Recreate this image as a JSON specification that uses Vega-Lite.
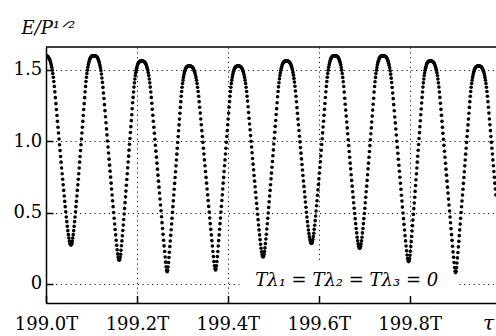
{
"$schema": "https://vega.github.io/schema/vega-lite/v6.json",
"width": 450,
"height": 256,
"autosize": {"type": "none"},
"padding": {"left": 46, "top": 47, "right": 0, "bottom": 33},
"background": "white",
"config": {"view": {"stroke": null}},
"layer": [
{
"data": {"values": [{}]},
"mark": {"type": "rect", "fill": "white"},
"encoding": {
"x": {"datum": 199.426, "type": "quantitative"},
"x2": {"datum": 199.906},
"y": {"datum": -0.075, "type": "quantitative"},
"y2": {"datum": 0.168}
}
},
{
"data": {"values": [
{"t":199.0001,"v":1.600},{"t":199.0012,"v":1.599},{"t":199.0024,"v":1.598},{"t":199.0035,"v":1.596},{"t":199.0047,"v":1.592},{"t":199.0058,"v":1.587},{"t":199.0069,"v":1.581},{"t":199.0081,"v":1.573},{"t":199.0092,"v":1.563},{"t":199.0104,"v":1.551},{"t":199.0115,"v":1.536},{"t":199.0126,"v":1.519},{"t":199.0138,"v":1.499},{"t":199.0149,"v":1.475},{"t":199.0161,"v":1.449},{"t":199.0172,"v":1.419},{"t":199.0184,"v":1.385},{"t":199.0195,"v":1.347},{"t":199.0206,"v":1.306},{"t":199.0218,"v":1.264},{"t":199.0229,"v":1.223},{"t":199.0241,"v":1.181},{"t":199.0252,"v":1.140},{"t":199.0264,"v":1.099},{"t":199.0275,"v":1.058},{"t":199.0286,"v":1.016},{"t":199.0298,"v":0.976},{"t":199.0309,"v":0.935},{"t":199.0321,"v":0.894},{"t":199.0332,"v":0.854},{"t":199.0343,"v":0.813},{"t":199.0355,"v":0.773},{"t":199.0366,"v":0.734},{"t":199.0378,"v":0.695},{"t":199.0389,"v":0.656},{"t":199.0401,"v":0.617},{"t":199.0412,"v":0.579},{"t":199.0423,"v":0.542},{"t":199.0435,"v":0.506},{"t":199.0446,"v":0.470},{"t":199.0458,"v":0.437},{"t":199.0469,"v":0.404},{"t":199.0480,"v":0.374},{"t":199.0492,"v":0.346},{"t":199.0503,"v":0.322},{"t":199.0515,"v":0.301},{"t":199.0526,"v":0.286},{"t":199.0538,"v":0.276},
{"t":199.0549,"v":0.273},{"t":199.0559,"v":0.276},{"t":199.0569,"v":0.286},{"t":199.0579,"v":0.301},{"t":199.0589,"v":0.322},{"t":199.0599,"v":0.346},{"t":199.0609,"v":0.374},{"t":199.0619,"v":0.404},{"t":199.0629,"v":0.437},{"t":199.0639,"v":0.470},{"t":199.0649,"v":0.506},{"t":199.0659,"v":0.542},{"t":199.0669,"v":0.579},{"t":199.0680,"v":0.617},{"t":199.0690,"v":0.656},{"t":199.0700,"v":0.695},{"t":199.0710,"v":0.734},{"t":199.0720,"v":0.773},{"t":199.0730,"v":0.813},{"t":199.0740,"v":0.854},{"t":199.0750,"v":0.894},{"t":199.0760,"v":0.935},{"t":199.0770,"v":0.976},{"t":199.0780,"v":1.016},{"t":199.0790,"v":1.058},{"t":199.0800,"v":1.099},{"t":199.0810,"v":1.140},{"t":199.0820,"v":1.181},{"t":199.0830,"v":1.223},{"t":199.0840,"v":1.264},{"t":199.0850,"v":1.306},{"t":199.0860,"v":1.347},{"t":199.0870,"v":1.385},{"t":199.0880,"v":1.419},{"t":199.0890,"v":1.449},{"t":199.0900,"v":1.475},{"t":199.0910,"v":1.499},{"t":199.0920,"v":1.519},{"t":199.0931,"v":1.536},{"t":199.0941,"v":1.551},{"t":199.0951,"v":1.563},{"t":199.0961,"v":1.573},{"t":199.0971,"v":1.581},{"t":199.0981,"v":1.587},{"t":199.0991,"v":1.592},{"t":199.1001,"v":1.596},{"t":199.1011,"v":1.598},{"t":199.1021,"v":1.599},{"t":199.1031,"v":1.600},{"t":199.1041,"v":1.600},
{"t":199.1051,"v":1.600},{"t":199.1062,"v":1.600},{"t":199.1073,"v":1.600},{"t":199.1085,"v":1.599},{"t":199.1096,"v":1.598},{"t":199.1107,"v":1.595},{"t":199.1118,"v":1.592},{"t":199.1129,"v":1.587},{"t":199.1141,"v":1.581},{"t":199.1152,"v":1.572},{"t":199.1163,"v":1.562},{"t":199.1174,"v":1.549},{"t":199.1185,"v":1.534},{"t":199.1197,"v":1.516},{"t":199.1208,"v":1.496},{"t":199.1219,"v":1.472},{"t":199.1230,"v":1.444},{"t":199.1241,"v":1.413},{"t":199.1253,"v":1.378},{"t":199.1264,"v":1.339},{"t":199.1275,"v":1.300},{"t":199.1286,"v":1.257},{"t":199.1297,"v":1.215},{"t":199.1309,"v":1.172},{"t":199.1320,"v":1.130},{"t":199.1331,"v":1.087},{"t":199.1342,"v":1.045},{"t":199.1353,"v":1.002},{"t":199.1365,"v":0.960},{"t":199.1376,"v":0.918},{"t":199.1387,"v":0.875},{"t":199.1398,"v":0.833},{"t":199.1409,"v":0.791},{"t":199.1421,"v":0.749},{"t":199.1432,"v":0.707},{"t":199.1443,"v":0.666},{"t":199.1454,"v":0.624},{"t":199.1465,"v":0.583},{"t":199.1477,"v":0.542},{"t":199.1488,"v":0.501},{"t":199.1499,"v":0.461},{"t":199.1510,"v":0.421},{"t":199.1521,"v":0.382},{"t":199.1533,"v":0.344},{"t":199.1544,"v":0.307},{"t":199.1555,"v":0.272},{"t":199.1566,"v":0.240},{"t":199.1577,"v":0.211},{"t":199.1589,"v":0.188},{"t":199.1600,"v":0.172},
{"t":199.1611,"v":0.167},{"t":199.1621,"v":0.172},{"t":199.1631,"v":0.187},{"t":199.1641,"v":0.209},{"t":199.1650,"v":0.237},{"t":199.1660,"v":0.268},{"t":199.1670,"v":0.302},{"t":199.1680,"v":0.338},{"t":199.1690,"v":0.375},{"t":199.1700,"v":0.413},{"t":199.1709,"v":0.452},{"t":199.1719,"v":0.491},{"t":199.1729,"v":0.530},{"t":199.1739,"v":0.570},{"t":199.1749,"v":0.611},{"t":199.1759,"v":0.651},{"t":199.1768,"v":0.692},{"t":199.1778,"v":0.732},{"t":199.1788,"v":0.773},{"t":199.1798,"v":0.814},{"t":199.1808,"v":0.855},{"t":199.1818,"v":0.896},{"t":199.1827,"v":0.938},{"t":199.1837,"v":0.979},{"t":199.1847,"v":1.020},{"t":199.1857,"v":1.062},{"t":199.1867,"v":1.103},{"t":199.1877,"v":1.145},{"t":199.1887,"v":1.186},{"t":199.1896,"v":1.228},{"t":199.1906,"v":1.270},{"t":199.1916,"v":1.308},{"t":199.1926,"v":1.346},{"t":199.1936,"v":1.380},{"t":199.1946,"v":1.410},{"t":199.1955,"v":1.437},{"t":199.1965,"v":1.461},{"t":199.1975,"v":1.481},{"t":199.1985,"v":1.498},{"t":199.1995,"v":1.513},{"t":199.2005,"v":1.525},{"t":199.2014,"v":1.536},{"t":199.2024,"v":1.543},{"t":199.2034,"v":1.550},{"t":199.2044,"v":1.555},{"t":199.2054,"v":1.558},{"t":199.2064,"v":1.560},{"t":199.2073,"v":1.562},{"t":199.2083,"v":1.562},{"t":199.2093,"v":1.563},
{"t":199.2103,"v":1.563},{"t":199.2114,"v":1.563},{"t":199.2126,"v":1.562},{"t":199.2137,"v":1.562},{"t":199.2148,"v":1.560},{"t":199.2159,"v":1.558},{"t":199.2171,"v":1.555},{"t":199.2182,"v":1.550},{"t":199.2193,"v":1.543},{"t":199.2204,"v":1.536},{"t":199.2216,"v":1.525},{"t":199.2227,"v":1.513},{"t":199.2238,"v":1.498},{"t":199.2249,"v":1.481},{"t":199.2261,"v":1.461},{"t":199.2272,"v":1.437},{"t":199.2283,"v":1.410},{"t":199.2294,"v":1.380},{"t":199.2306,"v":1.346},{"t":199.2317,"v":1.308},{"t":199.2328,"v":1.267},{"t":199.2339,"v":1.225},{"t":199.2351,"v":1.183},{"t":199.2362,"v":1.141},{"t":199.2373,"v":1.099},{"t":199.2385,"v":1.057},{"t":199.2396,"v":1.015},{"t":199.2407,"v":0.973},{"t":199.2418,"v":0.931},{"t":199.2430,"v":0.889},{"t":199.2441,"v":0.847},{"t":199.2452,"v":0.805},{"t":199.2463,"v":0.763},{"t":199.2475,"v":0.721},{"t":199.2486,"v":0.679},{"t":199.2497,"v":0.638},{"t":199.2508,"v":0.596},{"t":199.2520,"v":0.554},{"t":199.2531,"v":0.513},{"t":199.2542,"v":0.471},{"t":199.2553,"v":0.430},{"t":199.2565,"v":0.389},{"t":199.2576,"v":0.348},{"t":199.2587,"v":0.307},{"t":199.2598,"v":0.267},{"t":199.2610,"v":0.228},{"t":199.2621,"v":0.189},{"t":199.2632,"v":0.153},{"t":199.2643,"v":0.120},{"t":199.2655,"v":0.096},
{"t":199.2666,"v":0.086},{"t":199.2676,"v":0.095},{"t":199.2685,"v":0.119},{"t":199.2695,"v":0.151},{"t":199.2705,"v":0.186},{"t":199.2714,"v":0.223},{"t":199.2724,"v":0.262},{"t":199.2734,"v":0.301},{"t":199.2743,"v":0.341},{"t":199.2753,"v":0.380},{"t":199.2763,"v":0.421},{"t":199.2772,"v":0.461},{"t":199.2782,"v":0.502},{"t":199.2792,"v":0.542},{"t":199.2801,"v":0.583},{"t":199.2811,"v":0.624},{"t":199.2821,"v":0.664},{"t":199.2830,"v":0.705},{"t":199.2840,"v":0.746},{"t":199.2850,"v":0.787},{"t":199.2859,"v":0.828},{"t":199.2869,"v":0.869},{"t":199.2879,"v":0.910},{"t":199.2888,"v":0.951},{"t":199.2898,"v":0.992},{"t":199.2908,"v":1.033},{"t":199.2917,"v":1.074},{"t":199.2927,"v":1.115},{"t":199.2936,"v":1.156},{"t":199.2946,"v":1.197},{"t":199.2956,"v":1.238},{"t":199.2965,"v":1.278},{"t":199.2975,"v":1.316},{"t":199.2985,"v":1.349},{"t":199.2994,"v":1.379},{"t":199.3004,"v":1.405},{"t":199.3014,"v":1.428},{"t":199.3023,"v":1.448},{"t":199.3033,"v":1.465},{"t":199.3043,"v":1.479},{"t":199.3052,"v":1.491},{"t":199.3062,"v":1.501},{"t":199.3072,"v":1.509},{"t":199.3081,"v":1.515},{"t":199.3091,"v":1.520},{"t":199.3101,"v":1.523},{"t":199.3110,"v":1.525},{"t":199.3120,"v":1.527},{"t":199.3130,"v":1.527},{"t":199.3139,"v":1.528},
{"t":199.3149,"v":1.528},{"t":199.3161,"v":1.528},{"t":199.3172,"v":1.527},{"t":199.3184,"v":1.527},{"t":199.3195,"v":1.525},{"t":199.3207,"v":1.523},{"t":199.3219,"v":1.520},{"t":199.3230,"v":1.515},{"t":199.3242,"v":1.509},{"t":199.3254,"v":1.501},{"t":199.3265,"v":1.491},{"t":199.3277,"v":1.479},{"t":199.3288,"v":1.465},{"t":199.3300,"v":1.448},{"t":199.3312,"v":1.428},{"t":199.3323,"v":1.405},{"t":199.3335,"v":1.379},{"t":199.3347,"v":1.349},{"t":199.3358,"v":1.316},{"t":199.3370,"v":1.278},{"t":199.3381,"v":1.239},{"t":199.3393,"v":1.198},{"t":199.3405,"v":1.157},{"t":199.3416,"v":1.116},{"t":199.3428,"v":1.075},{"t":199.3440,"v":1.034},{"t":199.3451,"v":0.993},{"t":199.3463,"v":0.952},{"t":199.3474,"v":0.911},{"t":199.3486,"v":0.870},{"t":199.3498,"v":0.829},{"t":199.3509,"v":0.788},{"t":199.3521,"v":0.747},{"t":199.3532,"v":0.707},{"t":199.3544,"v":0.666},{"t":199.3556,"v":0.625},{"t":199.3567,"v":0.585},{"t":199.3579,"v":0.544},{"t":199.3591,"v":0.504},{"t":199.3602,"v":0.463},{"t":199.3614,"v":0.423},{"t":199.3625,"v":0.383},{"t":199.3637,"v":0.344},{"t":199.3649,"v":0.304},{"t":199.3660,"v":0.266},{"t":199.3672,"v":0.228},{"t":199.3684,"v":0.192},{"t":199.3695,"v":0.158},{"t":199.3707,"v":0.128},{"t":199.3718,"v":0.106},
{"t":199.3730,"v":0.098},{"t":199.3740,"v":0.106},{"t":199.3750,"v":0.128},{"t":199.3760,"v":0.158},{"t":199.3770,"v":0.192},{"t":199.3780,"v":0.228},{"t":199.3790,"v":0.266},{"t":199.3799,"v":0.304},{"t":199.3809,"v":0.344},{"t":199.3819,"v":0.383},{"t":199.3829,"v":0.423},{"t":199.3839,"v":0.463},{"t":199.3849,"v":0.504},{"t":199.3859,"v":0.544},{"t":199.3869,"v":0.585},{"t":199.3879,"v":0.625},{"t":199.3889,"v":0.666},{"t":199.3899,"v":0.707},{"t":199.3909,"v":0.747},{"t":199.3918,"v":0.788},{"t":199.3928,"v":0.829},{"t":199.3938,"v":0.870},{"t":199.3948,"v":0.911},{"t":199.3958,"v":0.952},{"t":199.3968,"v":0.993},{"t":199.3978,"v":1.034},{"t":199.3988,"v":1.075},{"t":199.3998,"v":1.116},{"t":199.4008,"v":1.157},{"t":199.4018,"v":1.198},{"t":199.4028,"v":1.239},{"t":199.4038,"v":1.278},{"t":199.4047,"v":1.316},{"t":199.4057,"v":1.349},{"t":199.4067,"v":1.379},{"t":199.4077,"v":1.405},{"t":199.4087,"v":1.428},{"t":199.4097,"v":1.448},{"t":199.4107,"v":1.465},{"t":199.4117,"v":1.479},{"t":199.4127,"v":1.491},{"t":199.4137,"v":1.501},{"t":199.4147,"v":1.509},{"t":199.4157,"v":1.515},{"t":199.4166,"v":1.520},{"t":199.4176,"v":1.523},{"t":199.4186,"v":1.525},{"t":199.4196,"v":1.527},{"t":199.4206,"v":1.527},{"t":199.4216,"v":1.528},
{"t":199.4226,"v":1.528},{"t":199.4237,"v":1.528},{"t":199.4248,"v":1.527},{"t":199.4259,"v":1.527},{"t":199.4270,"v":1.525},{"t":199.4281,"v":1.523},{"t":199.4292,"v":1.520},{"t":199.4303,"v":1.515},{"t":199.4314,"v":1.509},{"t":199.4325,"v":1.501},{"t":199.4336,"v":1.491},{"t":199.4347,"v":1.479},{"t":199.4358,"v":1.465},{"t":199.4369,"v":1.448},{"t":199.4380,"v":1.428},{"t":199.4391,"v":1.405},{"t":199.4402,"v":1.379},{"t":199.4413,"v":1.349},{"t":199.4424,"v":1.316},{"t":199.4435,"v":1.282},{"t":199.4446,"v":1.242},{"t":199.4457,"v":1.202},{"t":199.4468,"v":1.161},{"t":199.4479,"v":1.121},{"t":199.4490,"v":1.081},{"t":199.4501,"v":1.040},{"t":199.4512,"v":1.000},{"t":199.4523,"v":0.960},{"t":199.4534,"v":0.920},{"t":199.4545,"v":0.880},{"t":199.4556,"v":0.840},{"t":199.4567,"v":0.800},{"t":199.4578,"v":0.761},{"t":199.4589,"v":0.721},{"t":199.4600,"v":0.682},{"t":199.4611,"v":0.643},{"t":199.4622,"v":0.604},{"t":199.4633,"v":0.565},{"t":199.4644,"v":0.527},{"t":199.4655,"v":0.489},{"t":199.4666,"v":0.451},{"t":199.4677,"v":0.414},{"t":199.4688,"v":0.379},{"t":199.4699,"v":0.344},{"t":199.4710,"v":0.311},{"t":199.4721,"v":0.279},{"t":199.4732,"v":0.251},{"t":199.4743,"v":0.226},{"t":199.4754,"v":0.207},{"t":199.4765,"v":0.194},
{"t":199.4776,"v":0.190},{"t":199.4786,"v":0.195},{"t":199.4797,"v":0.208},{"t":199.4807,"v":0.228},{"t":199.4817,"v":0.253},{"t":199.4827,"v":0.283},{"t":199.4838,"v":0.315},{"t":199.4848,"v":0.349},{"t":199.4858,"v":0.385},{"t":199.4869,"v":0.422},{"t":199.4879,"v":0.460},{"t":199.4889,"v":0.498},{"t":199.4899,"v":0.537},{"t":199.4910,"v":0.577},{"t":199.4920,"v":0.616},{"t":199.4930,"v":0.656},{"t":199.4940,"v":0.696},{"t":199.4951,"v":0.737},{"t":199.4961,"v":0.777},{"t":199.4971,"v":0.818},{"t":199.4982,"v":0.859},{"t":199.4992,"v":0.899},{"t":199.5002,"v":0.940},{"t":199.5012,"v":0.981},{"t":199.5023,"v":1.022},{"t":199.5033,"v":1.064},{"t":199.5043,"v":1.105},{"t":199.5054,"v":1.146},{"t":199.5064,"v":1.188},{"t":199.5074,"v":1.229},{"t":199.5084,"v":1.270},{"t":199.5095,"v":1.312},{"t":199.5105,"v":1.349},{"t":199.5115,"v":1.382},{"t":199.5126,"v":1.411},{"t":199.5136,"v":1.438},{"t":199.5146,"v":1.461},{"t":199.5156,"v":1.481},{"t":199.5167,"v":1.498},{"t":199.5177,"v":1.513},{"t":199.5187,"v":1.525},{"t":199.5197,"v":1.536},{"t":199.5208,"v":1.543},{"t":199.5218,"v":1.550},{"t":199.5228,"v":1.555},{"t":199.5239,"v":1.558},{"t":199.5249,"v":1.560},{"t":199.5259,"v":1.562},{"t":199.5269,"v":1.562},{"t":199.5280,"v":1.563},
{"t":199.5290,"v":1.563},{"t":199.5301,"v":1.563},{"t":199.5312,"v":1.562},{"t":199.5323,"v":1.562},{"t":199.5334,"v":1.560},{"t":199.5345,"v":1.558},{"t":199.5356,"v":1.555},{"t":199.5367,"v":1.550},{"t":199.5378,"v":1.543},{"t":199.5389,"v":1.536},{"t":199.5400,"v":1.526},{"t":199.5411,"v":1.514},{"t":199.5422,"v":1.500},{"t":199.5433,"v":1.483},{"t":199.5444,"v":1.464},{"t":199.5455,"v":1.441},{"t":199.5466,"v":1.415},{"t":199.5477,"v":1.386},{"t":199.5488,"v":1.353},{"t":199.5499,"v":1.316},{"t":199.5510,"v":1.277},{"t":199.5521,"v":1.236},{"t":199.5532,"v":1.196},{"t":199.5543,"v":1.156},{"t":199.5554,"v":1.116},{"t":199.5565,"v":1.076},{"t":199.5576,"v":1.036},{"t":199.5587,"v":0.996},{"t":199.5598,"v":0.956},{"t":199.5609,"v":0.917},{"t":199.5620,"v":0.877},{"t":199.5631,"v":0.838},{"t":199.5642,"v":0.799},{"t":199.5653,"v":0.761},{"t":199.5664,"v":0.722},{"t":199.5675,"v":0.684},{"t":199.5686,"v":0.647},{"t":199.5697,"v":0.610},{"t":199.5708,"v":0.574},{"t":199.5719,"v":0.538},{"t":199.5730,"v":0.503},{"t":199.5741,"v":0.470},{"t":199.5752,"v":0.437},{"t":199.5763,"v":0.407},{"t":199.5774,"v":0.378},{"t":199.5785,"v":0.353},{"t":199.5796,"v":0.330},{"t":199.5807,"v":0.311},{"t":199.5818,"v":0.297},{"t":199.5829,"v":0.288},
{"t":199.5840,"v":0.285},{"t":199.5850,"v":0.288},{"t":199.5860,"v":0.297},{"t":199.5871,"v":0.312},{"t":199.5881,"v":0.332},{"t":199.5891,"v":0.356},{"t":199.5901,"v":0.383},{"t":199.5912,"v":0.412},{"t":199.5922,"v":0.444},{"t":199.5932,"v":0.477},{"t":199.5942,"v":0.512},{"t":199.5953,"v":0.548},{"t":199.5963,"v":0.584},{"t":199.5973,"v":0.622},{"t":199.5983,"v":0.660},{"t":199.5994,"v":0.698},{"t":199.6004,"v":0.737},{"t":199.6014,"v":0.777},{"t":199.6024,"v":0.817},{"t":199.6035,"v":0.857},{"t":199.6045,"v":0.897},{"t":199.6055,"v":0.937},{"t":199.6065,"v":0.978},{"t":199.6076,"v":1.018},{"t":199.6086,"v":1.059},{"t":199.6096,"v":1.100},{"t":199.6106,"v":1.141},{"t":199.6116,"v":1.183},{"t":199.6127,"v":1.224},{"t":199.6137,"v":1.265},{"t":199.6147,"v":1.307},{"t":199.6157,"v":1.347},{"t":199.6168,"v":1.385},{"t":199.6178,"v":1.419},{"t":199.6188,"v":1.449},{"t":199.6198,"v":1.475},{"t":199.6209,"v":1.499},{"t":199.6219,"v":1.519},{"t":199.6229,"v":1.536},{"t":199.6239,"v":1.551},{"t":199.6250,"v":1.563},{"t":199.6260,"v":1.573},{"t":199.6270,"v":1.581},{"t":199.6280,"v":1.587},{"t":199.6291,"v":1.592},{"t":199.6301,"v":1.596},{"t":199.6311,"v":1.598},{"t":199.6321,"v":1.599},{"t":199.6332,"v":1.600},{"t":199.6342,"v":1.600},
{"t":199.6352,"v":1.600},{"t":199.6363,"v":1.600},{"t":199.6374,"v":1.600},{"t":199.6385,"v":1.599},{"t":199.6396,"v":1.598},{"t":199.6407,"v":1.595},{"t":199.6418,"v":1.592},{"t":199.6429,"v":1.587},{"t":199.6440,"v":1.581},{"t":199.6451,"v":1.572},{"t":199.6462,"v":1.562},{"t":199.6473,"v":1.550},{"t":199.6484,"v":1.536},{"t":199.6495,"v":1.518},{"t":199.6506,"v":1.498},{"t":199.6517,"v":1.475},{"t":199.6528,"v":1.448},{"t":199.6539,"v":1.418},{"t":199.6550,"v":1.384},{"t":199.6561,"v":1.345},{"t":199.6572,"v":1.302},{"t":199.6583,"v":1.260},{"t":199.6594,"v":1.219},{"t":199.6605,"v":1.177},{"t":199.6616,"v":1.136},{"t":199.6627,"v":1.094},{"t":199.6637,"v":1.053},{"t":199.6648,"v":1.011},{"t":199.6659,"v":0.970},{"t":199.6670,"v":0.929},{"t":199.6681,"v":0.888},{"t":199.6692,"v":0.847},{"t":199.6703,"v":0.807},{"t":199.6714,"v":0.766},{"t":199.6725,"v":0.726},{"t":199.6736,"v":0.686},{"t":199.6747,"v":0.647},{"t":199.6758,"v":0.608},{"t":199.6769,"v":0.569},{"t":199.6780,"v":0.531},{"t":199.6791,"v":0.494},{"t":199.6802,"v":0.458},{"t":199.6813,"v":0.423},{"t":199.6824,"v":0.389},{"t":199.6835,"v":0.358},{"t":199.6846,"v":0.328},{"t":199.6857,"v":0.303},{"t":199.6868,"v":0.281},{"t":199.6879,"v":0.264},{"t":199.6890,"v":0.254},
{"t":199.6901,"v":0.250},{"t":199.6911,"v":0.254},{"t":199.6921,"v":0.264},{"t":199.6932,"v":0.281},{"t":199.6942,"v":0.303},{"t":199.6952,"v":0.328},{"t":199.6962,"v":0.358},{"t":199.6973,"v":0.389},{"t":199.6983,"v":0.423},{"t":199.6993,"v":0.458},{"t":199.7003,"v":0.494},{"t":199.7014,"v":0.531},{"t":199.7024,"v":0.569},{"t":199.7034,"v":0.608},{"t":199.7044,"v":0.647},{"t":199.7055,"v":0.686},{"t":199.7065,"v":0.726},{"t":199.7075,"v":0.766},{"t":199.7085,"v":0.807},{"t":199.7096,"v":0.847},{"t":199.7106,"v":0.888},{"t":199.7116,"v":0.929},{"t":199.7126,"v":0.970},{"t":199.7137,"v":1.011},{"t":199.7147,"v":1.053},{"t":199.7157,"v":1.094},{"t":199.7167,"v":1.136},{"t":199.7177,"v":1.177},{"t":199.7188,"v":1.219},{"t":199.7198,"v":1.260},{"t":199.7208,"v":1.302},{"t":199.7218,"v":1.345},{"t":199.7229,"v":1.384},{"t":199.7239,"v":1.418},{"t":199.7249,"v":1.448},{"t":199.7259,"v":1.475},{"t":199.7270,"v":1.498},{"t":199.7280,"v":1.518},{"t":199.7290,"v":1.536},{"t":199.7300,"v":1.550},{"t":199.7311,"v":1.562},{"t":199.7321,"v":1.572},{"t":199.7331,"v":1.581},{"t":199.7341,"v":1.587},{"t":199.7352,"v":1.592},{"t":199.7362,"v":1.595},{"t":199.7372,"v":1.597},{"t":199.7382,"v":1.597},{"t":199.7393,"v":1.597},{"t":199.7403,"v":1.597},
{"t":199.7413,"v":1.597},{"t":199.7424,"v":1.597},{"t":199.7436,"v":1.597},{"t":199.7447,"v":1.597},{"t":199.7458,"v":1.596},{"t":199.7470,"v":1.594},{"t":199.7481,"v":1.591},{"t":199.7492,"v":1.586},{"t":199.7503,"v":1.580},{"t":199.7515,"v":1.571},{"t":199.7526,"v":1.561},{"t":199.7537,"v":1.548},{"t":199.7549,"v":1.533},{"t":199.7560,"v":1.515},{"t":199.7571,"v":1.495},{"t":199.7583,"v":1.471},{"t":199.7594,"v":1.443},{"t":199.7605,"v":1.412},{"t":199.7616,"v":1.377},{"t":199.7628,"v":1.338},{"t":199.7639,"v":1.299},{"t":199.7650,"v":1.257},{"t":199.7662,"v":1.214},{"t":199.7673,"v":1.171},{"t":199.7684,"v":1.129},{"t":199.7696,"v":1.086},{"t":199.7707,"v":1.044},{"t":199.7718,"v":1.001},{"t":199.7729,"v":0.959},{"t":199.7741,"v":0.916},{"t":199.7752,"v":0.874},{"t":199.7763,"v":0.832},{"t":199.7775,"v":0.790},{"t":199.7786,"v":0.748},{"t":199.7797,"v":0.706},{"t":199.7809,"v":0.664},{"t":199.7820,"v":0.622},{"t":199.7831,"v":0.581},{"t":199.7842,"v":0.539},{"t":199.7854,"v":0.498},{"t":199.7865,"v":0.458},{"t":199.7876,"v":0.418},{"t":199.7888,"v":0.378},{"t":199.7899,"v":0.339},{"t":199.7910,"v":0.302},{"t":199.7922,"v":0.266},{"t":199.7933,"v":0.233},{"t":199.7944,"v":0.203},{"t":199.7955,"v":0.179},{"t":199.7967,"v":0.163},
{"t":199.7978,"v":0.157},{"t":199.7988,"v":0.163},{"t":199.7997,"v":0.178},{"t":199.8007,"v":0.201},{"t":199.8016,"v":0.230},{"t":199.8026,"v":0.262},{"t":199.8035,"v":0.297},{"t":199.8045,"v":0.333},{"t":199.8054,"v":0.371},{"t":199.8064,"v":0.409},{"t":199.8073,"v":0.448},{"t":199.8083,"v":0.488},{"t":199.8092,"v":0.528},{"t":199.8102,"v":0.568},{"t":199.8112,"v":0.608},{"t":199.8121,"v":0.649},{"t":199.8131,"v":0.690},{"t":199.8140,"v":0.731},{"t":199.8150,"v":0.772},{"t":199.8159,"v":0.813},{"t":199.8169,"v":0.854},{"t":199.8178,"v":0.895},{"t":199.8188,"v":0.937},{"t":199.8197,"v":0.978},{"t":199.8207,"v":1.020},{"t":199.8217,"v":1.061},{"t":199.8226,"v":1.103},{"t":199.8236,"v":1.144},{"t":199.8245,"v":1.186},{"t":199.8255,"v":1.227},{"t":199.8264,"v":1.269},{"t":199.8274,"v":1.308},{"t":199.8283,"v":1.346},{"t":199.8293,"v":1.380},{"t":199.8302,"v":1.410},{"t":199.8312,"v":1.437},{"t":199.8321,"v":1.461},{"t":199.8331,"v":1.481},{"t":199.8341,"v":1.498},{"t":199.8350,"v":1.513},{"t":199.8360,"v":1.525},{"t":199.8369,"v":1.536},{"t":199.8379,"v":1.543},{"t":199.8388,"v":1.550},{"t":199.8398,"v":1.555},{"t":199.8407,"v":1.558},{"t":199.8417,"v":1.560},{"t":199.8426,"v":1.562},{"t":199.8436,"v":1.562},{"t":199.8445,"v":1.563},
{"t":199.8455,"v":1.563},{"t":199.8466,"v":1.563},{"t":199.8477,"v":1.562},{"t":199.8488,"v":1.562},{"t":199.8499,"v":1.560},{"t":199.8511,"v":1.558},{"t":199.8522,"v":1.555},{"t":199.8533,"v":1.550},{"t":199.8544,"v":1.543},{"t":199.8555,"v":1.536},{"t":199.8566,"v":1.525},{"t":199.8577,"v":1.513},{"t":199.8588,"v":1.498},{"t":199.8600,"v":1.481},{"t":199.8611,"v":1.461},{"t":199.8622,"v":1.437},{"t":199.8633,"v":1.410},{"t":199.8644,"v":1.380},{"t":199.8655,"v":1.346},{"t":199.8666,"v":1.308},{"t":199.8677,"v":1.267},{"t":199.8689,"v":1.224},{"t":199.8700,"v":1.182},{"t":199.8711,"v":1.140},{"t":199.8722,"v":1.098},{"t":199.8733,"v":1.056},{"t":199.8744,"v":1.014},{"t":199.8755,"v":0.972},{"t":199.8766,"v":0.930},{"t":199.8777,"v":0.888},{"t":199.8789,"v":0.846},{"t":199.8800,"v":0.805},{"t":199.8811,"v":0.763},{"t":199.8822,"v":0.721},{"t":199.8833,"v":0.679},{"t":199.8844,"v":0.637},{"t":199.8855,"v":0.595},{"t":199.8866,"v":0.554},{"t":199.8878,"v":0.512},{"t":199.8889,"v":0.470},{"t":199.8900,"v":0.429},{"t":199.8911,"v":0.388},{"t":199.8922,"v":0.346},{"t":199.8933,"v":0.306},{"t":199.8944,"v":0.265},{"t":199.8955,"v":0.225},{"t":199.8967,"v":0.187},{"t":199.8978,"v":0.150},{"t":199.8989,"v":0.116},{"t":199.9000,"v":0.090},
{"t":199.9011,"v":0.080},{"t":199.9021,"v":0.090},{"t":199.9031,"v":0.115},{"t":199.9041,"v":0.147},{"t":199.9051,"v":0.183},{"t":199.9062,"v":0.221},{"t":199.9072,"v":0.260},{"t":199.9082,"v":0.299},{"t":199.9092,"v":0.339},{"t":199.9102,"v":0.379},{"t":199.9112,"v":0.420},{"t":199.9122,"v":0.460},{"t":199.9132,"v":0.501},{"t":199.9142,"v":0.541},{"t":199.9152,"v":0.582},{"t":199.9163,"v":0.623},{"t":199.9173,"v":0.664},{"t":199.9183,"v":0.705},{"t":199.9193,"v":0.746},{"t":199.9203,"v":0.787},{"t":199.9213,"v":0.828},{"t":199.9223,"v":0.869},{"t":199.9233,"v":0.910},{"t":199.9243,"v":0.951},{"t":199.9253,"v":0.992},{"t":199.9264,"v":1.033},{"t":199.9274,"v":1.074},{"t":199.9284,"v":1.115},{"t":199.9294,"v":1.156},{"t":199.9304,"v":1.197},{"t":199.9314,"v":1.238},{"t":199.9324,"v":1.278},{"t":199.9334,"v":1.316},{"t":199.9344,"v":1.349},{"t":199.9354,"v":1.379},{"t":199.9365,"v":1.405},{"t":199.9375,"v":1.428},{"t":199.9385,"v":1.448},{"t":199.9395,"v":1.465},{"t":199.9405,"v":1.479},{"t":199.9415,"v":1.491},{"t":199.9425,"v":1.501},{"t":199.9435,"v":1.509},{"t":199.9445,"v":1.515},{"t":199.9455,"v":1.520},{"t":199.9466,"v":1.523},{"t":199.9476,"v":1.525},{"t":199.9486,"v":1.527},{"t":199.9496,"v":1.527},{"t":199.9506,"v":1.528},
{"t":199.9516,"v":1.528},{"t":199.9527,"v":1.528},{"t":199.9538,"v":1.527},{"t":199.9549,"v":1.527},{"t":199.9560,"v":1.525},{"t":199.9570,"v":1.523},{"t":199.9581,"v":1.520},{"t":199.9592,"v":1.515},{"t":199.9603,"v":1.509},{"t":199.9614,"v":1.501},{"t":199.9625,"v":1.491},{"t":199.9636,"v":1.479},{"t":199.9647,"v":1.465},{"t":199.9657,"v":1.448},{"t":199.9668,"v":1.428},{"t":199.9679,"v":1.405},{"t":199.9690,"v":1.379},{"t":199.9701,"v":1.349},{"t":199.9712,"v":1.316},{"t":199.9723,"v":1.278},{"t":199.9734,"v":1.239},{"t":199.9744,"v":1.198},{"t":199.9755,"v":1.157},{"t":199.9766,"v":1.116},{"t":199.9777,"v":1.075},{"t":199.9788,"v":1.034},{"t":199.9799,"v":0.993},{"t":199.9810,"v":0.952},{"t":199.9821,"v":0.911},{"t":199.9832,"v":0.870},{"t":199.9842,"v":0.829},{"t":199.9853,"v":0.788},{"t":199.9864,"v":0.748},{"t":199.9875,"v":0.707},{"t":199.9886,"v":0.666},{"t":199.9897,"v":0.625}
]},
"mark": {"type": "circle", "size": 13, "color": "black", "opacity": 1, "clip": true},
"encoding": {
"x": {"field": "t", "type": "quantitative",
 "scale": {"domain": [199.0, 199.99], "nice": false, "zero": false},
 "axis": {"values": [199.0, 199.2, 199.4, 199.6, 199.8],
  "labelExpr": "format(datum.value, '.1f') + 'T'",
  "labelFont": "DejaVu Serif", "labelFontSize": 18, "labelColor": "black",
  "labelPadding": 20.3, "labelFlush": false, "labelOverlap": false,
  "tickSize": -7.5, "tickWidth": 1.5, "tickColor": "black",
  "domainColor": "black", "domainWidth": 1.5,
  "grid": true, "gridColor": "black", "gridWidth": 1, "gridDash": [1.2, 3.6], "gridOpacity": 0.9,
  "title": "τ", "titleFont": "DejaVu Serif", "titleFontStyle": "italic", "titleFontWeight": "normal",
  "titleFontSize": 20, "titleColor": "black", "titleX": 442, "titleY": 26,
  "titleAlign": "center", "titleBaseline": "alphabetic"}},
"y": {"field": "v", "type": "quantitative",
 "scale": {"domain": [-0.1332, 1.6612], "nice": false, "zero": false},
 "axis": {"values": [0, 0.5, 1, 1.5],
  "labelExpr": "datum.value == 0 ? '0' : format(datum.value, '.1f')",
  "labelFont": "DejaVu Serif", "labelFontSize": 18, "labelColor": "black",
  "labelPadding": 11.3, "labelOverlap": false,
  "tickSize": -7, "tickWidth": 1.5, "tickColor": "black",
  "domainColor": "black", "domainWidth": 1.5,
  "grid": true, "gridColor": "black", "gridWidth": 1, "gridDash": [1.2, 3.6], "gridOpacity": 0.9,
  "title": "E/P¹ᐟ²", "titleFont": "DejaVu Serif", "titleFontStyle": "italic", "titleFontWeight": "normal",
  "titleFontSize": 18, "titleColor": "black", "titleAngle": 0, "titleX": -25, "titleY": -14,
  "titleAlign": "left", "titleBaseline": "alphabetic"}}
}
},
{
"data": {"values": [{}]},
"mark": {"type": "text", "text": "Tλ₁ = Tλ₂ = Tλ₃ = 0", "font": "DejaVu Serif", "fontSize": 18, "fontStyle": "italic", "align": "center", "baseline": "alphabetic", "color": "black"},
"encoding": {
"x": {"datum": 199.6615, "type": "quantitative"},
"y": {"datum": -0.014, "type": "quantitative"}
}
},
{
"data": {"values": [{}]},
"mark": {"type": "rule", "color": "black", "strokeWidth": 1.5},
"encoding": {
"y": {"datum": 1.6612, "type": "quantitative"}
}
}
]
}
